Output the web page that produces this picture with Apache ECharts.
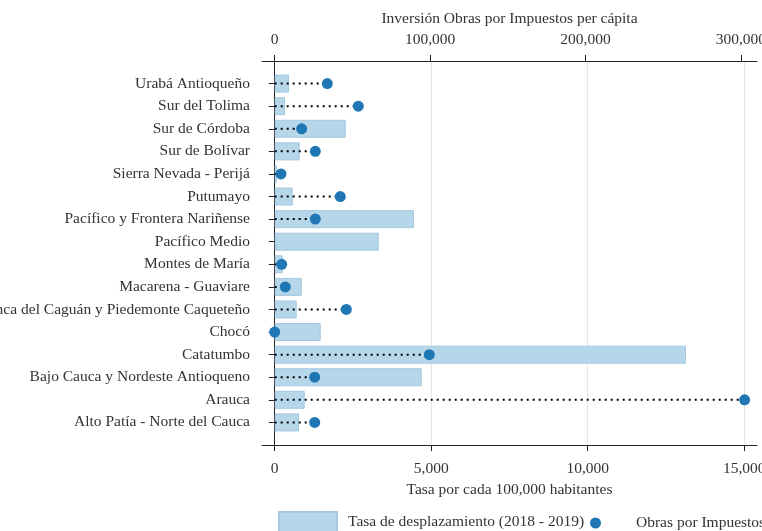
<!DOCTYPE html>
<html>
<head>
<meta charset="utf-8">
<script src="https://cdn.jsdelivr.net/npm/echarts@6/dist/echarts.min.js"></script>
<style>
  html, body { margin: 0; padding: 0; background: #fff; }
  #chart { width: 762px; height: 531px; }
</style>
</head>
<body>
<div id="chart"></div>
<script>
// regiones PDET, de abajo hacia arriba
const regions = [
  "Alto Patía - Norte del Cauca",
  "Arauca",
  "Bajo Cauca y Nordeste Antioqueno",
  "Catatumbo",
  "Chocó",
  "Cuenca del Caguán y Piedemonte Caqueteño",
  "Macarena - Guaviare",
  "Montes de María",
  "Pacífico Medio",
  "Pacífico y Frontera Nariñense",
  "Putumayo",
  "Sierra Nevada - Perijá",
  "Sur de Bolívar",
  "Sur de Córdoba",
  "Sur del Tolima",
  "Urabá Antioqueño"
]
// tasa de desplazamiento por 100.000 hab
const displacement = [776, 958, 4696, 13141, 1470, 703, 863, 256, 3323, 4450, 575, 64, 799, 2268, 329, 457]
// inversion obras por impuestos per capita (null = sin dato)
const oxiPerCapita = [25740, 302400, 25740, 99500, 0, 46070, 6820, 4500, null, 26130, 42210, 4050, 26130, 17370, 53800, 33850]

const bottomTicks = [0, 5000, 10000, 15000]
const topTicks = [0, 100000, 200000, 300000]

const FONT = "Liberation Serif"
const FS = 15.5
const TXT = "#333"
const BAR = "#b6d6ea"
const DOT = "#1f77b4"

// categorias vacias en los extremos para dejar aire arriba y abajo
const cats = [""].concat(regions, [""])

let dotData = [], stemData = []
regions.forEach((r, i) => {
  let v = oxiPerCapita[i]
  if (v === null) return
  dotData.push([v, r])
  stemData.push([0, r], [v, r], ["-", "-"])
})

const fmt = v => v.toLocaleString("en-US")

const chart = echarts.init(document.getElementById("chart"))
chart.setOption({
  animation: false,
  textStyle: { fontFamily: FONT },
  grid: { left: 262, right: 5, top: 61, bottom: 86, containLabel: false, outerBoundsMode: "none" },
  legend: [{
    data: [{ name: "Tasa de desplazamiento (2018 - 2019)", icon: "rect" }],
    left: 278, top: 511, padding: 0,
    itemWidth: 58, itemHeight: 20,
    textStyle: { fontFamily: FONT, fontSize: FS, color: TXT, padding: [0, 0, 0, 6] }
  }, {
    data: [{ name: "Obras por Impuestos", icon: "circle" }],
    left: 590, top: 515, padding: 0,
    itemWidth: 11, itemHeight: 12,
    textStyle: { fontFamily: FONT, fontSize: FS, color: TXT, padding: [0, 0, 0, 30] }
  }],
  xAxis: [{
    type: "value",
    position: "bottom",
    min: -406, max: 15409,
    name: "Tasa por cada 100,000 habitantes",
    nameLocation: "middle", nameGap: 28,
    nameTextStyle: { fontFamily: FONT, fontSize: FS, color: TXT },
    axisLine: { show: true, lineStyle: { color: "#222" } },
    axisTick: { show: true, customValues: bottomTicks, length: 6, lineStyle: { color: "#222" } },
    axisLabel: { customValues: bottomTicks, formatter: fmt, fontFamily: FONT, fontSize: FS, color: TXT, margin: 16 },
    splitLine: { show: true, lineStyle: { color: "#e6e6e6" } }
  }, {
    type: "value",
    position: "top",
    min: -8172, max: 310360,
    name: "Inversión Obras por Impuestos per cápita",
    nameLocation: "middle", nameGap: 33,
    nameTextStyle: { fontFamily: FONT, fontSize: FS, color: TXT },
    axisLine: { show: true, lineStyle: { color: "#222" } },
    axisTick: { show: true, customValues: topTicks, length: 6, lineStyle: { color: "#222" } },
    axisLabel: { customValues: topTicks, formatter: fmt, fontFamily: FONT, fontSize: FS, color: TXT, margin: 13 },
    splitLine: { show: false }
  }],
  yAxis: {
    type: "category",
    data: cats,
    boundaryGap: false,
    axisLine: { show: true, lineStyle: { color: "#222" } },
    axisTick: { show: true, length: 6, interval: (i, v) => v !== "", lineStyle: { color: "#222" } },
    axisLabel: { fontFamily: FONT, fontSize: FS, color: TXT, margin: 12, interval: 0 },
    splitLine: { show: false }
  },
  series: [{
    name: "Tasa de desplazamiento (2018 - 2019)",
    type: "bar",
    xAxisIndex: 0,
    data: regions.map((r, i) => [displacement[i], r]),
    barWidth: 18,
    itemStyle: { color: BAR, borderColor: "#a3c9e2", borderWidth: 1 }
  }, {
    name: "stems",
    type: "line",
    xAxisIndex: 1,
    data: stemData,
    symbol: "none",
    connectNulls: false,
    lineStyle: { color: "#000", width: 2, type: [2, 4] },
    z: 3
  }, {
    name: "Obras por Impuestos",
    type: "scatter",
    xAxisIndex: 1,
    data: dotData,
    symbolSize: 11,
    itemStyle: { color: DOT, opacity: 1 },
    z: 4
  }]
})
</script>
</body>
</html>
